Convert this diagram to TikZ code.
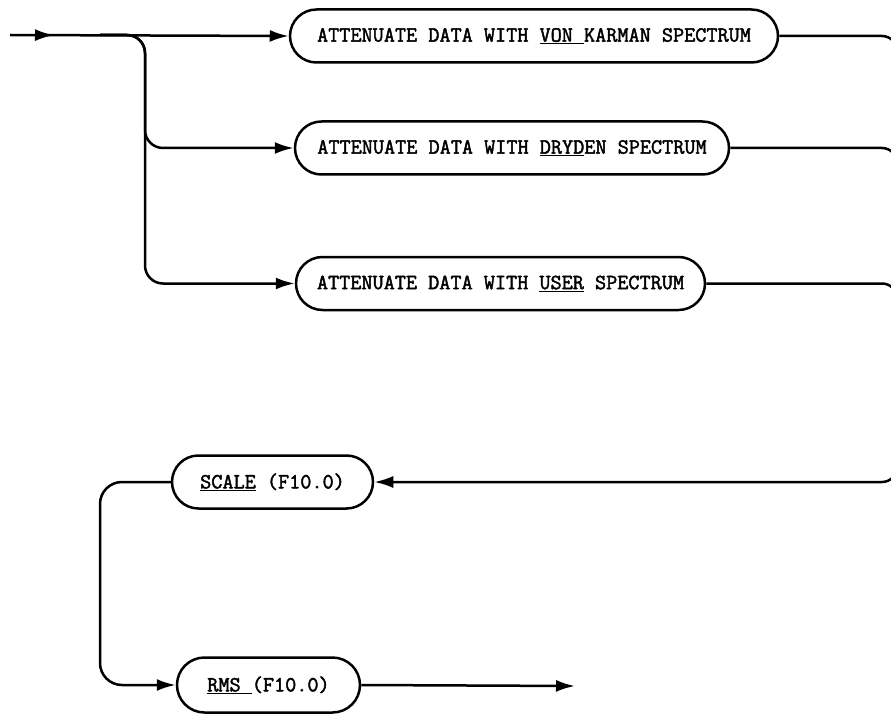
\documentclass[tikz,border=0pt]{standalone}
\usepackage{fontspec}
\setmonofont{Latin Modern Mono}[FakeBold=2]
\usetikzlibrary{arrows.meta,shapes.misc,decorations.markings}

\newcommand{\kw}[1]{\underline{#1}}

\begin{document}
\begin{tikzpicture}[x=1pt,y=-1pt,
  line width=2.5pt,
  kbox/.style={rounded rectangle, draw, line width=2.5pt, minimum height=53pt,
    inner sep=0pt, font=\ttfamily\fontsize{21.6}{24}\selectfont},
  tip/.style={-{Latex[length=19pt,width=12pt]}},
  midtip/.style={postaction={decorate},
    decoration={markings, mark=at position 44pt with {\arrow{Latex[length=19pt,width=12pt]}}}},
  flow/.style={rounded corners=18pt}]
\useasboundingbox (0,0) rectangle (891,714);
\clip (0,0) rectangle (891,714);

% spectrum choices
\node[kbox, minimum width=488pt] (vk) at (534,36)
  {ATTENUATE DATA WITH \kw{VON\ }KARMAN SPECTRUM};
\node[kbox, minimum width=434pt] (dr) at (512,148)
  {ATTENUATE DATA WITH \kw{DRYD}EN SPECTRUM};
\node[kbox, minimum width=409pt] (us) at (500.5,283.5)
  {ATTENUATE DATA WITH \kw{USER} SPECTRUM};

% scaling options
\node[kbox, minimum width=201pt] (sc) at (272.5,482) {\kw{SCALE} (F10.0)};
\node[kbox, minimum width=183pt, minimum height=55pt] (rms) at (268.5,685) {\kw{RMS\ }(F10.0)};

% routing points
\coordinate (in) at (10,35);
\coordinate (split) at (100,35);
\coordinate (lb) at (145,0);
\coordinate (rb) at (897,0);
\coordinate (lb2) at (100,0);
\coordinate (out) at (575,686);

% entry and fan-out
\draw[tip, midtip] (in) -- (vk.west);
\draw[tip, flow] (split) -| (lb |- dr.west) -- (dr.west);
\draw[tip, flow] (split) -| (lb |- us.west) -- (us.west);

% merge on the right, back to SCALE
\draw[tip, rounded corners=15pt] (vk.east) -| (rb |- sc.east) -- (sc.east);
\draw[rounded corners=15pt] (dr.east) -| (rb |- sc.east);
\draw[rounded corners=15pt] (us.east) -| (rb |- sc.east);

% SCALE to RMS and exit
\draw[tip, rounded corners=22pt] (sc.west) -| (lb2 |- rms.west) -- (rms.west);
\draw[tip] (rms.east) -- (out);
\end{tikzpicture}
\end{document}
